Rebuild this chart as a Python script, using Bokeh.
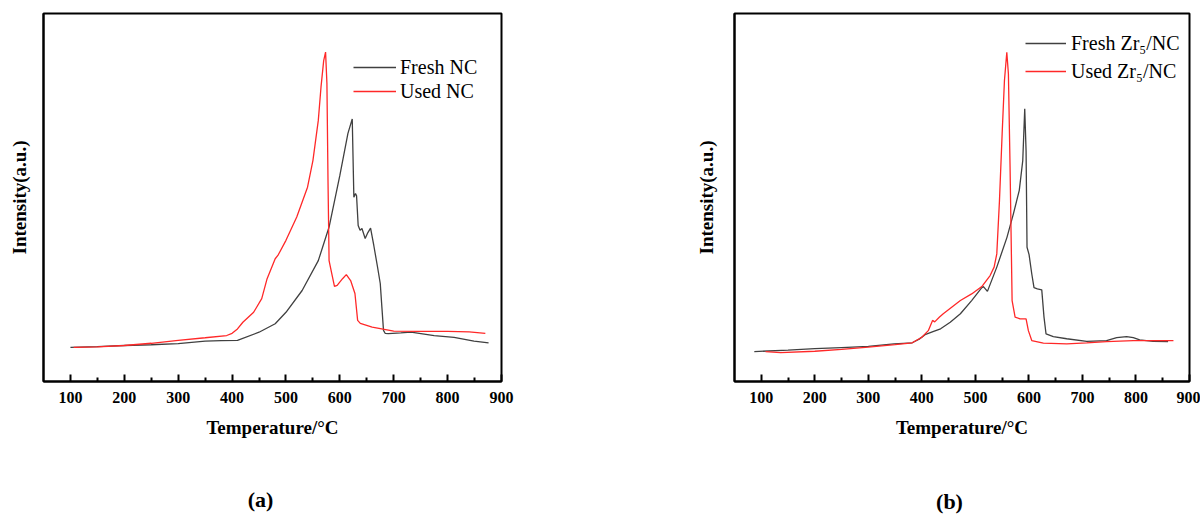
from bokeh.plotting import figure
from bokeh.models import Range1d, FixedTicker, Legend, LegendItem, Label
from bokeh.layouts import row, column
from bokeh.embed import file_html
from bokeh.resources import INLINE

# ---------------- data ----------------
x_label = "Temperature/°C"
y_label = "Intensity(a.u.)"
tick_values = [100, 200, 300, 400, 500, 600, 700, 800, 900]
minor_values = [150, 250, 350, 450, 550, 650, 750, 850]

# Panel (a)
a_labels = ["Fresh NC", "Used NC"]
a_caption = "(a)"
a_fresh_T = [100, 150, 200, 250, 300, 350, 380, 410, 450, 480, 500, 530, 560, 580, 600, 615,
             623, 626, 629, 631, 634, 637.5, 641, 647, 652, 657, 663, 670, 675, 678, 681, 684,
             690, 713, 732, 775, 812, 849, 876]
a_fresh_I = [9.8, 10.0, 10.3, 10.5, 10.8, 11.5, 11.6, 11.7, 13.9, 16.2, 19.3, 25.2, 33.3, 42.4, 56.4, 67.8,
             71.7, 50.5, 51.5, 50.9, 42.8, 41.5, 42.0, 39.3, 40.9, 42.1, 37.4, 31.5, 27.1, 20.7, 14.4, 13.6,
             13.5, 13.7, 13.9, 13.0, 12.5, 11.5, 11.0]
a_used_T = [106, 150, 200, 250, 300, 350, 390, 400, 410, 420, 440, 455, 465, 480, 485, 500,
            520, 540, 550, 560, 565, 570, 573.5, 576, 578, 580, 585, 590, 595, 605, 612, 620,
            628, 633, 638, 660, 700, 750, 800, 840, 870]
a_used_I = [9.8, 9.9, 10.3, 10.9, 11.7, 12.4, 13.0, 13.6, 14.8, 16.6, 19.3, 23.0, 28.4, 33.8, 34.7, 38.8,
            45.1, 53.2, 60.4, 71.3, 80.3, 87.5, 89.8, 81.3, 55.0, 33.3, 29.8, 26.3, 26.6, 28.4, 29.5, 27.9,
            24.4, 17.1, 16.3, 15.3, 14.2, 14.1, 14.1, 14.0, 13.6]

# Panel (b)
b_labels = ["Fresh Zr\u2085/NC", "Used Zr\u2085/NC"]
b_caption = "(b)"
b_fresh_T = [87, 150, 200, 250, 300, 348, 382, 395, 406, 422, 435, 453, 472, 493, 512, 515,
             522.5, 540, 559, 571, 582, 588.5, 592.2, 594.7, 596.5, 600.3, 605.3, 609.5, 615.8, 624, 628.2, 632,
             645.6, 670.6, 708, 745, 764, 782.5, 795, 807, 832, 860]
b_fresh_I = [7.6, 8.0, 8.4, 8.7, 9.0, 9.7, 10.0, 11.0, 12.2, 13.1, 13.8, 15.6, 17.9, 21.5, 25.0, 25.3,
             24.0, 30.6, 38.7, 45.1, 51.5, 59.6, 73.7, 62.3, 36.0, 34.0, 28.8, 25.0, 24.7, 24.4, 17.0, 12.4,
             11.7, 11.1, 10.4, 10.6, 11.4, 11.7, 11.4, 10.8, 10.4, 10.3]
b_used_T = [108, 136, 200, 250, 300, 350, 382, 400, 412, 420, 424, 433, 440, 472, 493, 512,
            527.5, 535, 540, 545, 550, 554.3, 558.7, 561.7, 564.8, 568.6, 574.2, 583.5, 594.7, 599, 605.3, 627,
            670.6, 708, 745, 795, 870]
b_used_I = [7.6, 7.3, 7.7, 8.2, 8.8, 9.5, 10.0, 11.5, 13.3, 16.1, 15.7, 17.0, 17.9, 21.5, 23.3, 25.3,
            28.3, 30.6, 34.2, 48.7, 66.9, 81.4, 89.1, 83.2, 57.8, 21.5, 17.0, 16.5, 16.5, 13.3, 10.6, 9.9,
            9.7, 10.0, 10.3, 10.6, 10.6]

FONT = "Liberation Serif"
FRESH_COLOR = "#404040"
USED_COLOR = "#ff2828"
MAIN_H = 475
CAP_H = 40
FRAME_TOP = 13
FRAME_BOTTOM = 381


def make_panel(width, bl, br, yr, fresh_T, fresh_I, used_T, used_I, labels,
               leg_loc, glyph_w, item_h, lab_standoff, ylab_standoff):
    p = figure(width=width, height=MAIN_H, x_range=Range1d(50, 900), y_range=Range1d(*yr),
               output_backend="svg", toolbar_location=None,
               min_border_left=bl, min_border_right=br, min_border_top=FRAME_TOP,
               min_border_bottom=MAIN_H - FRAME_BOTTOM)
    p.grid.visible = False
    p.outline_line_color = "black"
    p.outline_line_width = 2
    p.outline_line_alpha = 1.0
    p.background_fill_color = "white"
    p.border_fill_color = "white"

    r1 = p.line(fresh_T, fresh_I, line_color=FRESH_COLOR, line_width=1.3)
    r2 = p.line(used_T, used_I, line_color=USED_COLOR, line_width=1.3)

    xa = p.xaxis[0]
    xa.ticker = FixedTicker(ticks=tick_values, minor_ticks=minor_values)
    xa.axis_line_width = 2
    xa.axis_line_color = "black"
    xa.major_tick_in = 7
    xa.major_tick_out = 0
    xa.minor_tick_in = 4
    xa.minor_tick_out = 0
    xa.major_tick_line_width = 2
    xa.minor_tick_line_width = 2
    xa.major_label_text_font = FONT
    xa.major_label_text_font_style = "bold"
    xa.major_label_text_font_size = "16px"
    xa.major_label_text_color = "black"
    xa.major_label_standoff = 10
    xa.axis_label = x_label
    xa.axis_label_text_font = FONT
    xa.axis_label_text_font_style = "bold"
    xa.axis_label_text_font_size = "19px"
    xa.axis_label_text_color = "black"
    xa.axis_label_standoff = 11

    ya = p.yaxis[0]
    ya.ticker = FixedTicker(ticks=[])
    ya.axis_line_width = 2
    ya.axis_line_color = "black"
    ya.major_tick_in = 0
    ya.major_tick_out = 0
    ya.minor_tick_in = 0
    ya.minor_tick_out = 0
    ya.major_label_standoff = 0
    ya.axis_label = y_label
    ya.axis_label_text_font = FONT
    ya.axis_label_text_font_style = "bold"
    ya.axis_label_text_font_size = "19px"
    ya.axis_label_text_color = "black"
    ya.axis_label_standoff = ylab_standoff

    leg = Legend(items=[LegendItem(label=labels[0], renderers=[r1]),
                        LegendItem(label=labels[1], renderers=[r2])],
                 location=leg_loc, padding=0, margin=0, spacing=0,
                 glyph_width=glyph_w, glyph_height=item_h, label_height=item_h,
                 label_standoff=lab_standoff, border_line_color=None,
                 background_fill_alpha=0, label_text_font=FONT,
                 label_text_font_size="20px", label_text_color="black")
    p.add_layout(leg)
    return p


def make_caption(width, caption, cx, cy):
    c = figure(width=width, height=CAP_H, output_backend="svg", toolbar_location=None,
               min_border=0, x_range=Range1d(0, 1), y_range=Range1d(0, 1))
    c.axis.visible = False
    c.grid.visible = False
    c.outline_line_color = None
    c.background_fill_color = "white"
    c.border_fill_color = "white"
    c.add_layout(Label(x=cx, y=cy, x_units="screen", y_units="screen", text=caption,
                       text_align="center", text_baseline="middle", text_font=FONT,
                       text_font_style="bold", text_font_size="22px", text_color="black"))
    return c


p1 = make_panel(616, 43, 115, (0.54, 100.27), a_fresh_T, a_fresh_I, a_used_T, a_used_I, a_labels,
                (310, 278), 43, 24, 4, 14)
p2 = make_panel(584, 118, 11, (-0.54, 99.65), b_fresh_T, b_fresh_I, b_used_T, b_used_I, b_labels,
                (291, 296), 41, 28, 5, 18)
c1 = make_caption(616, a_caption, 260, 16)
c2 = make_caption(584, b_caption, 333, 14)

layout = column(row(p1, p2), row(c1, c2))
open("out.html", "w").write(file_html(layout, INLINE))
